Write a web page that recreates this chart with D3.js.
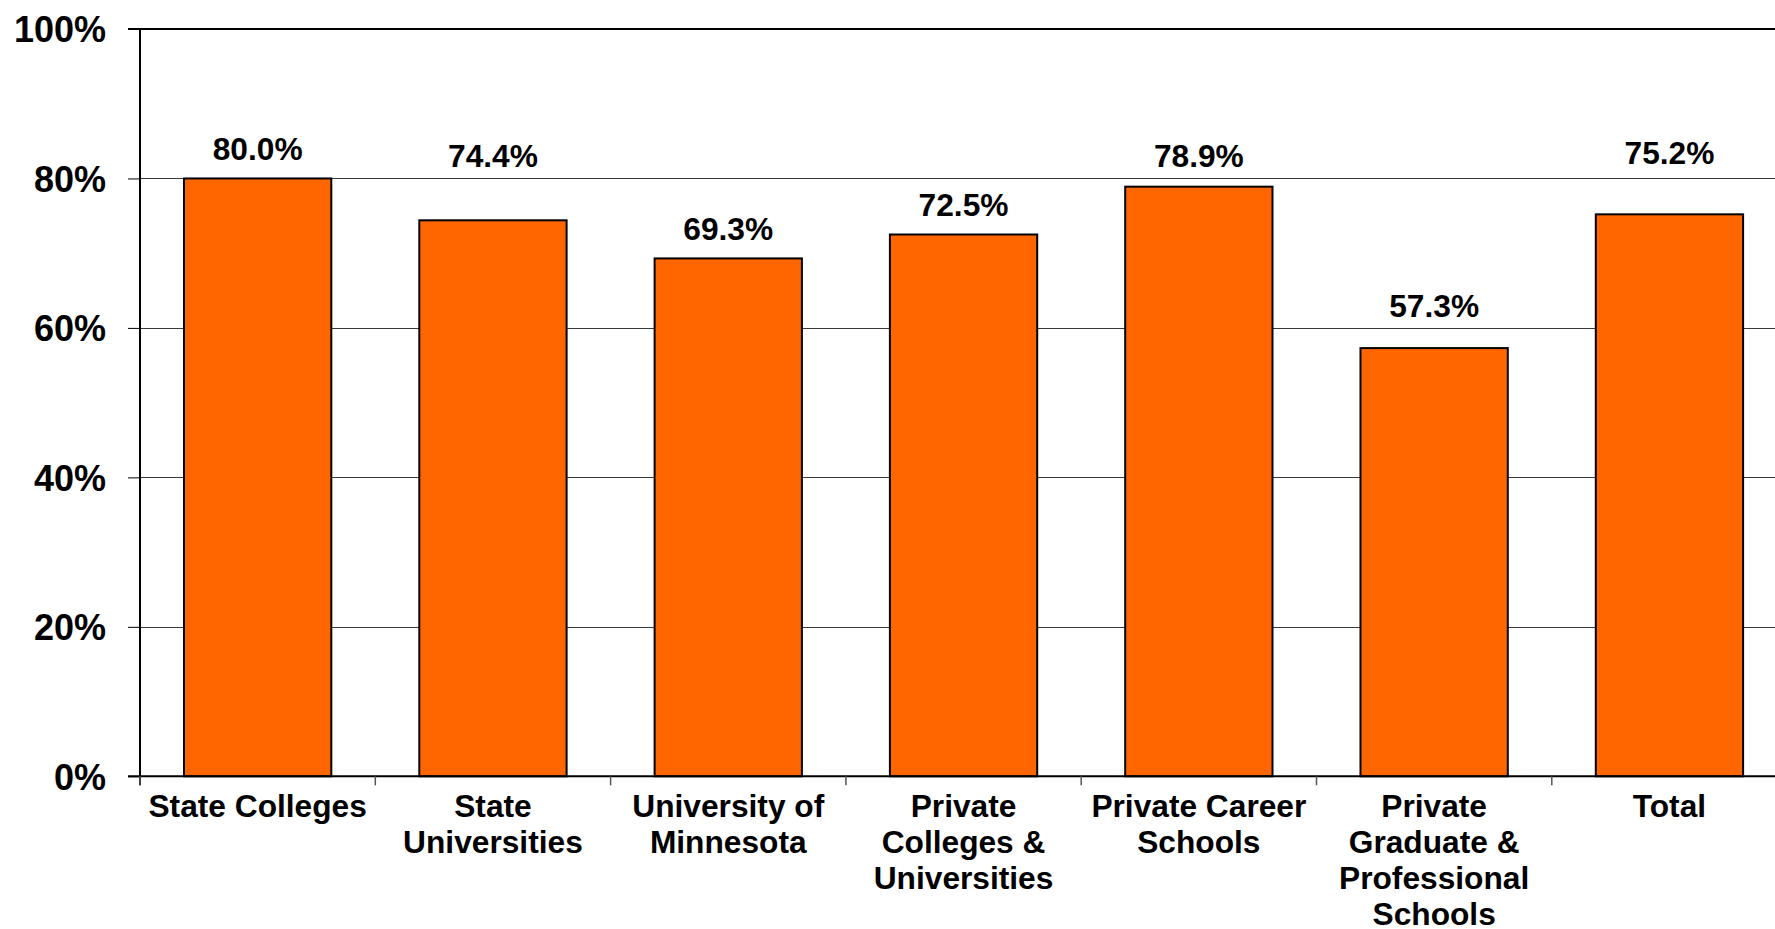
<!DOCTYPE html>
<html>
<head>
<meta charset="utf-8">
<script src="https://cdn.jsdelivr.net/npm/d3@7"></script>
<style>
  html, body { margin: 0; padding: 0; background: #fff; overflow: hidden; }
  svg { display: block; font-family: "Liberation Sans", Arial, Helvetica, sans-serif; font-weight: bold; }
</style>
</head>
<body>
<svg id="chart" width="1775" height="929"></svg>
<script>
const categories = [
  "State Colleges",
  "State\nUniversities",
  "University of\nMinnesota",
  "Private\nColleges &\nUniversities",
  "Private Career\nSchools",
  "Private\nGraduate &\nProfessional\nSchools",
  "Total"
];
const values = [0.800, 0.744, 0.693, 0.725, 0.789, 0.573, 0.752];
// level (in value units) where each data label sits
const labelLevels = [0.825, 0.816, 0.718, 0.750, 0.815, 0.615, 0.820];
const yTicks = [0, 0.2, 0.4, 0.6, 0.8, 1.0];

const svg = d3.select("#chart");
const W = 1775, H = 929;
const plotLeft = 140, plotTop = 29, plotBottom = 776.3;
const step = 235.3;
const plotRight = plotLeft + step * categories.length;

const x = d3.scaleBand()
  .domain(categories)
  .range([plotLeft, plotRight])
  .paddingInner(0.374)
  .paddingOuter(0.187);

const y = d3.scaleLinear().domain([0, 1]).range([plotBottom, plotTop]);

// gridlines
svg.append("g").selectAll("line")
  .data(yTicks.filter(t => t > 0 && t < 1))
  .join("line")
  .attr("x1", plotLeft).attr("x2", W)
  .attr("y1", d => Math.round(y(d)) + 0.5).attr("y2", d => Math.round(y(d)) + 0.5)
  .attr("stroke", "#3a3a3a").attr("stroke-width", 1);

// top border
svg.append("line")
  .attr("x1", plotLeft - 12).attr("x2", W)
  .attr("y1", y(1)).attr("y2", y(1))
  .attr("stroke", "#000").attr("stroke-width", 2);

// bars
svg.append("g").selectAll("rect")
  .data(values)
  .join("rect")
  .attr("x", (d, i) => x(categories[i]))
  .attr("width", x.bandwidth())
  .attr("y", d => y(d))
  .attr("height", d => y(0) - y(d))
  .attr("fill", "#FF6600")
  .attr("stroke", "#000")
  .attr("stroke-width", 2);

// value labels
svg.append("g").selectAll("text")
  .data(values)
  .join("text")
  .attr("x", (d, i) => x(categories[i]) + x.bandwidth() / 2)
  .attr("y", (d, i) => y(labelLevels[i]))
  .attr("text-anchor", "middle")
  .attr("font-size", "31.7px")
  .attr("fill", "#000")
  .text(d => d3.format(".1%")(d));

// y axis
const yAxis = d3.axisLeft(y).tickValues(yTicks).tickSize(12).tickPadding(22)
  .tickFormat(d3.format(".0%"));
const gy = svg.append("g").attr("transform", `translate(${plotLeft},0)`).call(yAxis);
gy.select(".domain").remove();
gy.selectAll(".tick line").attr("stroke", "#000").attr("stroke-width", 1);
gy.selectAll(".tick text")
  .attr("font-size", "36px")
  .attr("font-family", "'Liberation Sans', Arial, sans-serif")
  .attr("font-weight", "bold")
  .attr("fill", "#000")
  .attr("dy", "0.36em");

svg.append("line")
  .attr("x1", plotLeft).attr("x2", plotLeft)
  .attr("y1", plotTop - 1).attr("y2", plotBottom + 9)
  .attr("stroke", "#000").attr("stroke-width", 2);

// x axis line
svg.append("line")
  .attr("x1", plotLeft - 12).attr("x2", W)
  .attr("y1", plotBottom).attr("y2", plotBottom)
  .attr("stroke", "#000").attr("stroke-width", 2);

// x boundary ticks
svg.append("g").selectAll("line")
  .data(d3.range(categories.length + 1))
  .join("line")
  .attr("x1", i => plotLeft + i * x.step()).attr("x2", i => plotLeft + i * x.step())
  .attr("y1", plotBottom).attr("y2", plotBottom + 9)
  .attr("stroke", "#555").attr("stroke-width", 1.5);

// category labels
const xl = svg.append("g").selectAll("text")
  .data(categories)
  .join("text")
  .attr("text-anchor", "middle")
  .attr("font-size", "31.7px")
  .attr("fill", "#000");
xl.each(function(d) {
  const t = d3.select(this);
  const cx = x(d) + x.bandwidth() / 2;
  d.split("\n").forEach((line, i) => {
    t.append("tspan").attr("x", cx).attr("y", 816.5 + i * 36.2).text(line);
  });
});
</script>
</body>
</html>
